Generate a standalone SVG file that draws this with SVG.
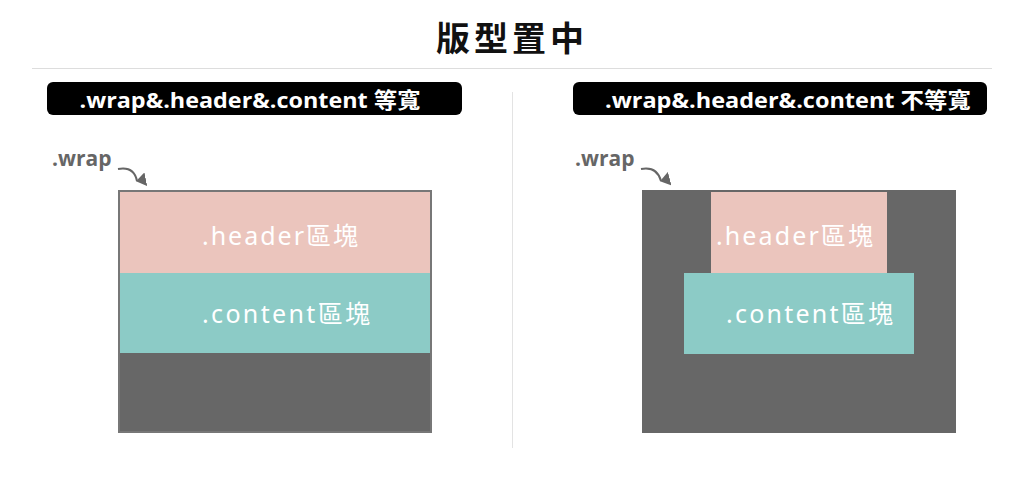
<svg xmlns="http://www.w3.org/2000/svg" width="1024" height="477" viewBox="0 0 1024 477">
<style>
.title{font-family:"Noto Sans CJK TC","Noto Sans",sans-serif;font-weight:700;font-size:34px;fill:#111;letter-spacing:4px}
.tag{fill:#000}
.tagt{font-family:"Open Sans","Noto Sans CJK TC",sans-serif;font-weight:700;font-size:22px;fill:#fff}
.wl{font-family:"Open Sans","Noto Sans",sans-serif;font-weight:700;font-size:21px;fill:#666}
.blk{font-family:"Noto Sans","Noto Sans CJK TC",sans-serif;font-size:25px;fill:#fff;letter-spacing:2px}
.hd{fill:#ebc5bd}
.ct{fill:#8ccbc6}
.wrap{fill:#676767}
.arr{fill:none;stroke:#666;stroke-width:2}
</style>
<defs>
<marker id="ah" viewBox="0 0 14 10" refX="7" refY="9" markerWidth="14" markerHeight="10" markerUnits="userSpaceOnUse" orient="auto">
<path d="M0,0 L14,0 L7,10 Z" fill="#666"/>
</marker>
</defs>
<rect width="1024" height="477" fill="#fff"/>
<g id="title">
<text class="title" x="512" y="51" text-anchor="middle">版型置中</text>
<line x1="32" y1="68.5" x2="992" y2="68.5" stroke="#ddd" stroke-width="1"/>
<line x1="512.5" y1="92" x2="512.5" y2="448" stroke="#e3e3e3" stroke-width="1"/>
</g>
<g id="tag-left">
<rect class="tag" x="47" y="82" width="415" height="33" rx="6"/>
<text class="tagt" x="250" y="108" text-anchor="middle" textLength="341" lengthAdjust="spacingAndGlyphs">.wrap&amp;.header&amp;.content 等寬</text>
</g>
<g id="tag-right">
<rect class="tag" x="573" y="82" width="414" height="33" rx="6"/>
<text class="tagt" x="788" y="108" text-anchor="middle" textLength="366" lengthAdjust="spacingAndGlyphs">.wrap&amp;.header&amp;.content 不等寬</text>
</g>
<g id="wrap-left">
<rect class="wrap" x="119" y="191" width="312" height="241" stroke="#777" stroke-width="2"/>
<text class="wl" x="52" y="166">.wrap</text>
</g>
<g id="header-left">
<rect class="hd" x="120" y="192" width="310" height="81"/>
<text class="blk" x="202" y="245" textLength="158">.header區塊</text>
</g>
<g id="content-left">
<rect class="ct" x="120" y="273" width="310" height="80"/>
<text class="blk" x="202" y="323" textLength="170">.content區塊</text>
</g>
<g id="wrap-right">
<rect class="wrap" x="642" y="190" width="314" height="243"/>
<text class="wl" x="575" y="166">.wrap</text>
</g>
<g id="header-right">
<rect class="hd" x="711" y="192" width="176" height="81"/>
<text class="blk" x="716" y="245" textLength="159">.header區塊</text>
</g>
<g id="content-right">
<rect class="ct" x="684" y="273" width="230" height="81"/>
<text class="blk" x="726" y="323" textLength="169">.content區塊</text>
</g>
<g id="connectors">
<path class="arr" d="M118,169 Q134,166 137,181" marker-end="url(#ah)"/>
<path class="arr" d="M641,169 Q657,166 661,181" marker-end="url(#ah)"/>
</g>
</svg>
